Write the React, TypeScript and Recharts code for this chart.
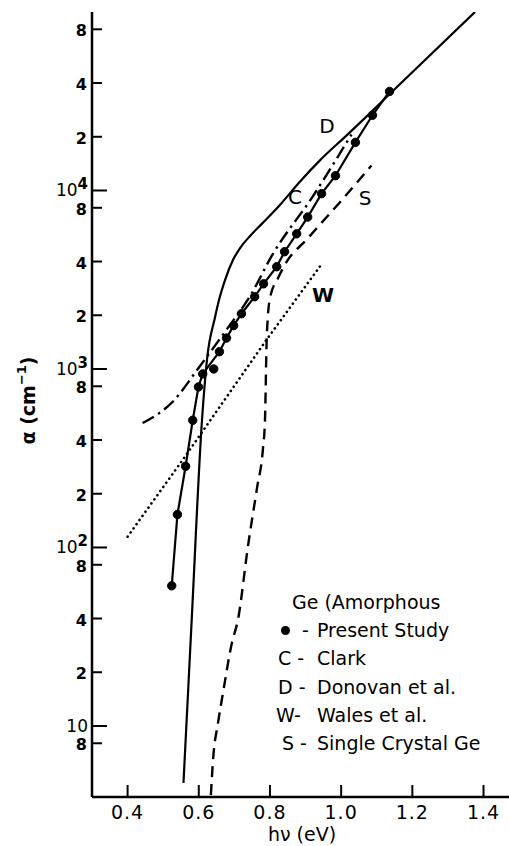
import React from 'react';
import { ComposedChart, Line, XAxis, YAxis, ReferenceDot, Legend } from 'recharts';

const FONT = '"DejaVu Sans", sans-serif';

// Present study (dots joined by a line)
const presentX = [0.524, 0.540, 0.563, 0.583, 0.599, 0.611, 0.658, 0.678, 0.698, 0.720, 0.757, 0.782, 0.819, 0.841, 0.875, 0.906, 0.945, 0.984, 1.040, 1.088, 1.136];
const presentY = [61, 153, 285, 516, 793, 938, 1250, 1490, 1750, 2040, 2540, 3000, 3740, 4540, 5720, 7100, 9600, 12100, 18600, 26400, 35900];
// Present study point off the line
const offLineX = [0.642];
const offLineY = [1000];
// D - Donovan et al.
const donovanX = [0.557, 0.580, 0.609, 0.623, 0.646, 0.657, 0.674, 0.696, 0.716, 0.744, 0.777, 0.828, 0.884, 0.941, 1.017, 1.090, 1.137, 1.376];
const donovanY = [4.8, 38.9, 516, 1125, 1960, 2440, 3160, 4080, 4760, 5560, 6500, 8300, 11200, 14800, 20500, 28200, 34800, 100000];
// C - Clark
const clarkX = [0.442, 0.526, 0.602, 0.678, 0.743, 0.807, 0.920, 1.029];
const clarkY = [498, 653, 1030, 1660, 2540, 4370, 9250, 20600];
// W - Wales et al.
const walesX = [0.400, 0.554, 0.790, 0.948];
const walesY = [115, 308, 1455, 3940];
// S - Single crystal Ge
const crystalX = [0.634, 0.640, 0.654, 0.668, 0.693, 0.710, 0.738, 0.764, 0.780, 0.786, 0.791, 0.800, 0.823, 0.847, 0.903, 0.948, 0.996, 1.085];
const crystalY = [4.1, 6.44, 10.4, 15.3, 29.2, 39.3, 101, 218, 352, 518, 1510, 2500, 3240, 3990, 5310, 6700, 8570, 13800];

const xTicks = [0.4, 0.6, 0.8, 1.0, 1.2, 1.4];
const xTickLabels = ['0.4', '0.6', '0.8', '1.0', '1.2', '1.4'];
const yTicks = [8, 10, 20, 40, 80, 100, 200, 400, 800, 1000, 2000, 4000, 8000, 10000, 20000, 40000, 80000];
const yTickBase = ['8', '10', '2', '4', '8', '10', '2', '4', '8', '10', '2', '4', '8', '10', '2', '4', '8'];
const yTickExp = ['', '', '', '', '', '2', '', '', '', '3', '', '', '', '4', '', '', ''];

const curveLabels = ['D', 'C', 'S', 'W'];
const curveLabelX = [0.960, 0.870, 1.067, 0.949];
const curveLabelY = [23000, 9200, 9100, 2600];

const legendTitle = 'Ge (Amorphous';
const legendKeys = ['•', 'C', 'D', 'W', 'S'];
const legendNames = ['Present Study', 'Clark', 'Donovan et al.', 'Wales et al.', 'Single Crystal Ge'];

const zip = (xs: number[], ys: number[]) => xs.map((x, i) => ({ x, y: ys[i] }));

const LeftTick = (props: any) => {
  const { x, y, payload } = props;
  const i = yTicks.indexOf(payload.value);
  const base = yTickBase[i];
  const exp = yTickExp[i];
  const decade = base === '10';
  const len = decade ? 15 : 10;
  return (
    <g>
      <line x1={x} y1={y} x2={x + len} y2={y} stroke="#000" strokeWidth={2} />
      {decade ? (
        <text x={x - 4} y={y + 6} textAnchor="end" fontFamily={FONT} fill="#000">
          <tspan fontSize={17}>10</tspan>
          {exp ? <tspan fontSize={15} fontWeight={700} dy={-7}>{exp}</tspan> : null}
        </text>
      ) : (
        <text x={x - 5} y={y + 7} textAnchor="end" fontFamily={FONT} fontSize={16} fontWeight={700} fill="#000">
          {base}
        </text>
      )}
    </g>
  );
};

const RightTick = (props: any) => {
  const { x, y } = props;
  return <line x1={x - 10} y1={y} x2={x} y2={y} stroke="#000" strokeWidth={2} />;
};

const BottomTick = (props: any) => {
  const { x, y, payload } = props;
  const i = xTicks.indexOf(payload.value);
  return (
    <g>
      <line x1={x} y1={y} x2={x} y2={y - 12} stroke="#000" strokeWidth={2} />
      <text x={x} y={y + 22} textAnchor="middle" fontFamily={FONT} fontSize={19} letterSpacing={1} fill="#000">
        {xTickLabels[i]}
      </text>
    </g>
  );
};

const TopTick = (props: any) => {
  const { x, y } = props;
  return <line x1={x} y1={y} x2={x} y2={y + 14} stroke="#000" strokeWidth={2} />;
};

const YLabel = (p: any) => {
  const vb = p.viewBox || { x: 32, y: 12, width: 60, height: 785 };
  const cx = vb.x - 4;
  const cy = vb.y + vb.height / 2 - 4;
  return (
    <text x={cx} y={cy} transform={`rotate(-90 ${cx} ${cy})`} textAnchor="middle" dominantBaseline="central" fontFamily={FONT} fontSize={19} fontWeight={700} fill="#000">
      α (cm<tspan fontSize={13} dy={-7}>−1</tspan><tspan dy={7}>)</tspan>
    </text>
  );
};

const XLabel = (p: any) => {
  const vb = p.viewBox || { x: 92, y: 797, width: 420, height: 49 };
  const cx = vb.x + vb.width / 2;
  return (
    <text x={cx} y={vb.y + 44} textAnchor="middle" fontFamily={FONT} fontSize={19} fill="#000">
      hν (eV)
    </text>
  );
};

const LegendBlock = () => {
  const row = 28.2;
  return (
    <div style={{ position: 'relative', width: 240, height: 175, fontFamily: FONT, fontSize: 19, color: '#000', whiteSpace: 'nowrap' }}>
      <div style={{ position: 'absolute', left: 22, top: 0, height: 28, lineHeight: '28px' }}>{legendTitle}</div>
      {legendKeys.map((k, i) => {
        const top = (i + 1) * row;
        return (
          <React.Fragment key={k}>
            {k === '•' ? (
              <>
                <div style={{ position: 'absolute', left: 11, top: top + 10, width: 9, height: 9, borderRadius: '50%', background: '#000' }} />
                <div style={{ position: 'absolute', left: 32, top, height: 28, lineHeight: '28px' }}>-</div>
              </>
            ) : (
              <div style={{ position: 'absolute', left: k === 'W' ? 6 : k === 'S' ? 12 : 8, top, height: 28, lineHeight: '28px' }}>
                {k === 'W' ? `${k}-` : `${k} -`}
              </div>
            )}
            <div style={{ position: 'absolute', left: 47, top, height: 28, lineHeight: '28px' }}>{legendNames[i]}</div>
          </React.Fragment>
        );
      })}
    </div>
  );
};

export default function App() {
  const axisLine = { stroke: '#000', strokeWidth: 2.5 };
  return (
    <div style={{ position: 'absolute', left: 0, top: 0, width: 509, height: 846, overflow: 'hidden', background: '#fff' }}>
      <ComposedChart width={520} height={846} margin={{ top: 12, right: 8, bottom: 0, left: 32 }} style={{ fontFamily: FONT }}>
        <XAxis
          xAxisId="b"
          type="number"
          dataKey="x"
          domain={[0.3, 1.48]}
          allowDataOverflow
          ticks={xTicks}
          interval={0}
          tickSize={0}
          tickMargin={0}
          tickLine={false}
          axisLine={axisLine}
          height={49}
          tick={(p: any) => <BottomTick {...p} />}
          label={{ content: XLabel }}
        />
        <XAxis
          xAxisId="t"
          orientation="top"
          type="number"
          dataKey="x"
          domain={[0.3, 1.48]}
          allowDataOverflow
          ticks={xTicks}
          interval={0}
          tickSize={0}
          tickMargin={0}
          tickLine={false}
          axisLine={axisLine}
          height={0}
          tick={(p: any) => <TopTick {...p} />}
        />
        <YAxis
          yAxisId="l"
          type="number"
          dataKey="y"
          scale="log"
          domain={[4, 100000]}
          allowDataOverflow
          ticks={yTicks}
          interval={0}
          tickSize={0}
          tickMargin={0}
          tickLine={false}
          axisLine={axisLine}
          width={60}
          tick={(p: any) => <LeftTick {...p} />}
          label={{ content: YLabel }}
        />
        <YAxis
          yAxisId="r"
          orientation="right"
          type="number"
          dataKey="y"
          scale="log"
          domain={[4, 100000]}
          allowDataOverflow
          ticks={yTicks}
          interval={0}
          tickSize={0}
          tickMargin={0}
          tickLine={false}
          axisLine={axisLine}
          width={0}
          tick={(p: any) => <RightTick {...p} />}
        />
        <Line xAxisId="b" yAxisId="l" data={zip(donovanX, donovanY)} dataKey="y" type="monotone" stroke="#000" strokeWidth={2.2} dot={false} isAnimationActive={false} />
        <Line xAxisId="b" yAxisId="l" data={zip(clarkX, clarkY)} dataKey="y" type="monotone" stroke="#000" strokeWidth={2.4} strokeDasharray="13 5 2.5 5" dot={false} isAnimationActive={false} />
        <Line xAxisId="b" yAxisId="l" data={zip(crystalX, crystalY)} dataKey="y" type="monotone" stroke="#000" strokeWidth={2.4} strokeDasharray="11 7" dot={false} isAnimationActive={false} />
        <Line xAxisId="b" yAxisId="l" data={zip(walesX, walesY)} dataKey="y" type="linear" stroke="#000" strokeWidth={2.6} strokeDasharray="0.1 5" strokeLinecap="round" dot={false} isAnimationActive={false} />
        <Line xAxisId="b" yAxisId="l" data={zip(presentX, presentY)} dataKey="y" type="linear" stroke="#000" strokeWidth={2.2} dot={{ r: 4.2, fill: '#000', stroke: '#000', strokeWidth: 1 }} isAnimationActive={false} />
        <Line xAxisId="b" yAxisId="l" data={zip(offLineX, offLineY)} dataKey="y" type="linear" stroke="none" dot={{ r: 4.2, fill: '#000', stroke: '#000', strokeWidth: 1 }} isAnimationActive={false} />
        {curveLabels.map((t, i) => (
          <ReferenceDot
            key={t}
            xAxisId="b"
            yAxisId="l"
            x={curveLabelX[i]}
            y={curveLabelY[i]}
            r={0}
            fill="none"
            stroke="none"
            label={{ value: t, position: 'center', fill: '#000', fontSize: 20, fontFamily: FONT, fontWeight: t === 'W' ? 700 : 400 }}
          />
        ))}
        <Legend
          layout="horizontal"
          verticalAlign="middle"
          align="center"
          wrapperStyle={{ position: 'absolute', left: 270, top: 588, width: 240, height: 175 }}
          content={() => <LegendBlock />}
        />
      </ComposedChart>
    </div>
  );
}
